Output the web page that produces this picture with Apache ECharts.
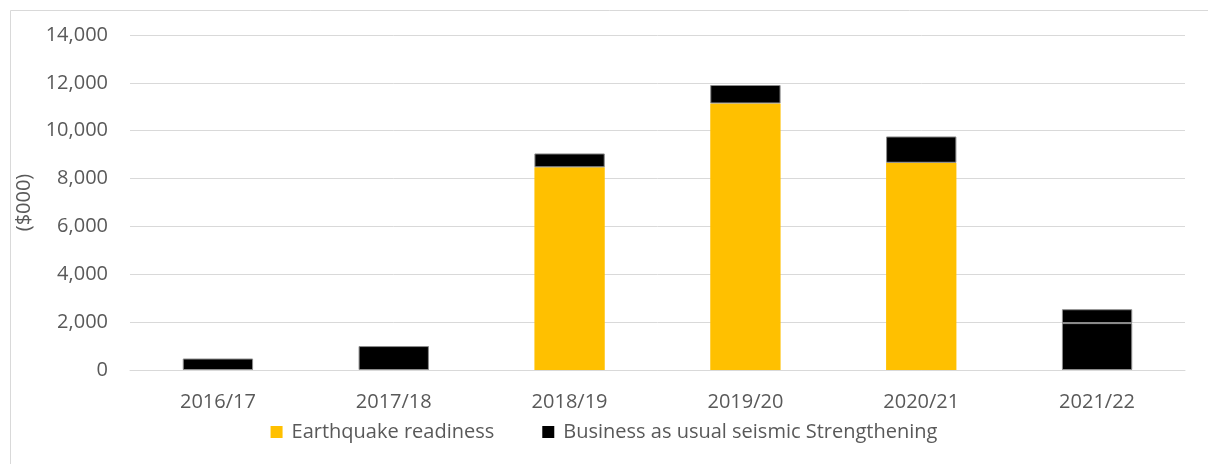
<!DOCTYPE html>
<html>
<head>
<meta charset="utf-8">
<script src="https://cdn.jsdelivr.net/npm/echarts@6/dist/echarts.min.js"></script>
<style>
html,body{margin:0;padding:0;background:#fff;}
#c{width:1208px;height:464px;}
</style>
</head>
<body>
<div id="c"></div>
<script>
const categories = ['2016/17','2017/18','2018/19','2019/20','2020/21','2021/22'];
const earthquakeReadiness = [0, 0, 8470, 11140, 8660, 1960];
const businessAsUsual = [480, 1000, 580, 770, 1100, 580];
const yTicks = [0, 2000, 4000, 6000, 8000, 10000, 12000, 14000];

const chart = echarts.init(document.getElementById('c'));
const font = '"Open Sans", "Noto Sans", sans-serif';
const textColor = '#595959';

chart.setOption({
  animation: false,
  backgroundColor: '#fff',
  graphic: [{
    type: 'rect', silent: true, z: -10,
    shape: { x: 10.5, y: 10.5, width: 1210, height: 470 },
    style: { fill: 'none', stroke: '#d9d9d9', lineWidth: 1 }
  }],
  grid: { left: 130, right: 23, top: 35, bottom: 94 },
  legend: {
    bottom: 17, left: 'center', itemWidth: 12, itemHeight: 12, itemGap: 48,
    icon: 'rect',
    textStyle: { fontFamily: font, fontSize: 20, color: textColor, padding: [0, 0, 0, 4] },
    data: [
      { name: 'Earthquake readiness', itemStyle: { color: '#ffc000', borderWidth: 0 } },
      { name: 'Business as usual seismic Strengthening', itemStyle: { color: '#000', borderWidth: 0 } }
    ]
  },
  xAxis: {
    type: 'category', data: categories,
    axisLine: { lineStyle: { color: '#d9d9d9', width: 1 } },
    axisTick: { show: false },
    axisLabel: { fontFamily: font, fontSize: 20, color: textColor, margin: 22 }
  },
  yAxis: {
    type: 'value', min: yTicks[0], max: yTicks[yTicks.length - 1], interval: 2000,
    name: '($000)', nameLocation: 'middle', nameGap: 94, nameRotate: 90,
    nameTextStyle: { fontFamily: font, fontSize: 20, color: textColor },
    axisLine: { show: false }, axisTick: { show: false },
    splitLine: { lineStyle: { color: '#d9d9d9', width: 1 } },
    axisLabel: {
      fontFamily: font, fontSize: 20, color: textColor, margin: 22,
      formatter: v => v.toLocaleString('en-US')
    }
  },
  series: [
    {
      name: 'Earthquake readiness', type: 'bar', stack: 'total', barWidth: '40%',
      itemStyle: { color: '#ffc000' },
      data: earthquakeReadiness.map((v, i) => i === categories.length - 1
        ? { value: v, itemStyle: { color: '#000', borderColor: '#8c8c8c', borderWidth: 1 } }
        : v)
    },
    {
      name: 'Business as usual seismic Strengthening', type: 'bar', stack: 'total', barWidth: '40%',
      itemStyle: { color: '#000', borderColor: '#8c8c8c', borderWidth: 1 },
      data: businessAsUsual
    }
  ]
});
</script>
</body>
</html>
